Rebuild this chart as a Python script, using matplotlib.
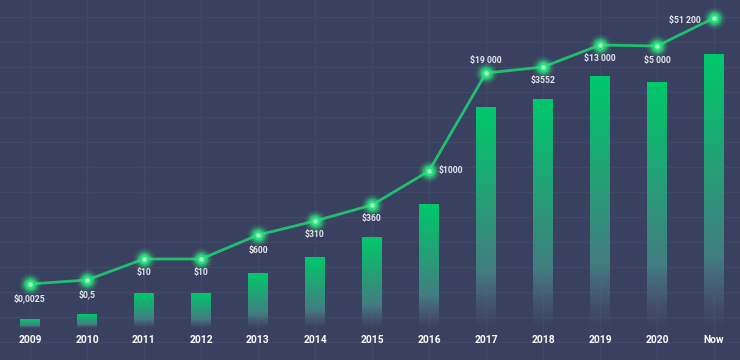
import numpy as np
import matplotlib.pyplot as plt
from matplotlib.colors import to_rgb

# categories and values (bar heights / line levels in chart units)
years = ['2009', '2010', '2011', '2012', '2013', '2014', '2015', '2016',
         '2017', '2018', '2019', '2020', 'Now']
bar_vals = [9, 14, 35, 35, 55, 71, 91, 124, 221, 229, 252, 246, 274]
line_vals = [44, 48, 69, 69, 93, 107, 123, 157, 255, 261, 283, 282, 310]
price_labels = ['$0,0025', '$0,5', '$10', '$10', '$600', '$310', '$360', '$1000',
                '$19 000', '$3552', '$13 000', '$5 000', '$51 200']
# where each label sits relative to its point: (dx, dy, ha) in pixels
label_pos = [(0, -14, 'center'), (0, -14, 'center'), (0, -14, 'center'), (0, -14, 'center'),
             (0, -15, 'center'), (0, -13, 'center'), (0, -13, 'center'), (10, 0, 'left'),
             (0, 13, 'center'), (0, -13, 'center'), (0, -14, 'center'), (0, -14, 'center'),
             (-13, -2, 'right')]

BG = '#3a4160'
GRID = '#424967'
GREEN = '#00c96b'
LINE = '#1fbf72'
TXT = '#e4e5ec'

plt.rcParams['font.family'] = ['Roboto', 'DejaVu Sans']

fig = plt.figure(figsize=(7.4, 3.6), dpi=100)
fig.patch.set_facecolor(BG)
ax = fig.add_axes([0, 0, 1, 1])
ax.set_facecolor(BG)

x = np.arange(len(years))

# grid
for gy in np.arange(-14, 328, 25):
    ax.axhline(gy, color=GRID, lw=1, zorder=0)
for gx in x:
    ax.axvline(gx, color=GRID, lw=1, zorder=0)

# gradient bars: green at the top, greyish and fading out at the bottom
bw = 0.34
top = np.array(to_rgb(GREEN))
bot = np.array(to_rgb('#5a6387'))
n = 200
t = np.linspace(0, 1, n)[:, None]  # 0 = top, 1 = bottom
rgb = top * (1 - t) + bot * t
alpha = np.where(t < 0.75, 1.0, np.clip((1 - t) / 0.25, 0, 1))
grad = np.hstack([rgb, alpha]).reshape(n, 1, 4)
for xi, h in zip(x, bar_vals):
    ax.imshow(grad, extent=[xi - bw / 2, xi + bw / 2, 0, h], aspect='auto',
              interpolation='bilinear', zorder=2)
ax.set_xlim(-0.526, 12.456)
ax.set_ylim(-32, 328)

# line with glowing markers
ax.plot(x, line_vals, color=LINE, lw=2, zorder=3)
for s, a in [(260, 0.08), (190, 0.14), (130, 0.25), (90, 0.4)]:
    ax.scatter(x, line_vals, s=s, color='#2ee880', alpha=a, lw=0, zorder=4)
ax.scatter(x, line_vals, s=50, color='#26e07c', lw=0, zorder=5)
ax.scatter(x, line_vals, s=12, color='#9ff0c2', lw=0, zorder=6)

for xi, yv, lab, (dx, dy, ha) in zip(x, line_vals, price_labels, label_pos):
    ax.annotate(lab, (xi, yv), xytext=(dx, dy), textcoords='offset pixels',
                ha=ha, va='center', color=TXT, fontsize=6.2, fontweight='bold', zorder=7)

for xi, yr in zip(x, years):
    ax.text(xi, -12, yr, ha='center', va='center', color='white',
            fontsize=7.4, fontweight='bold', zorder=7)

ax.axis('off')
fig.savefig('out.png', dpi=100, facecolor=BG)
